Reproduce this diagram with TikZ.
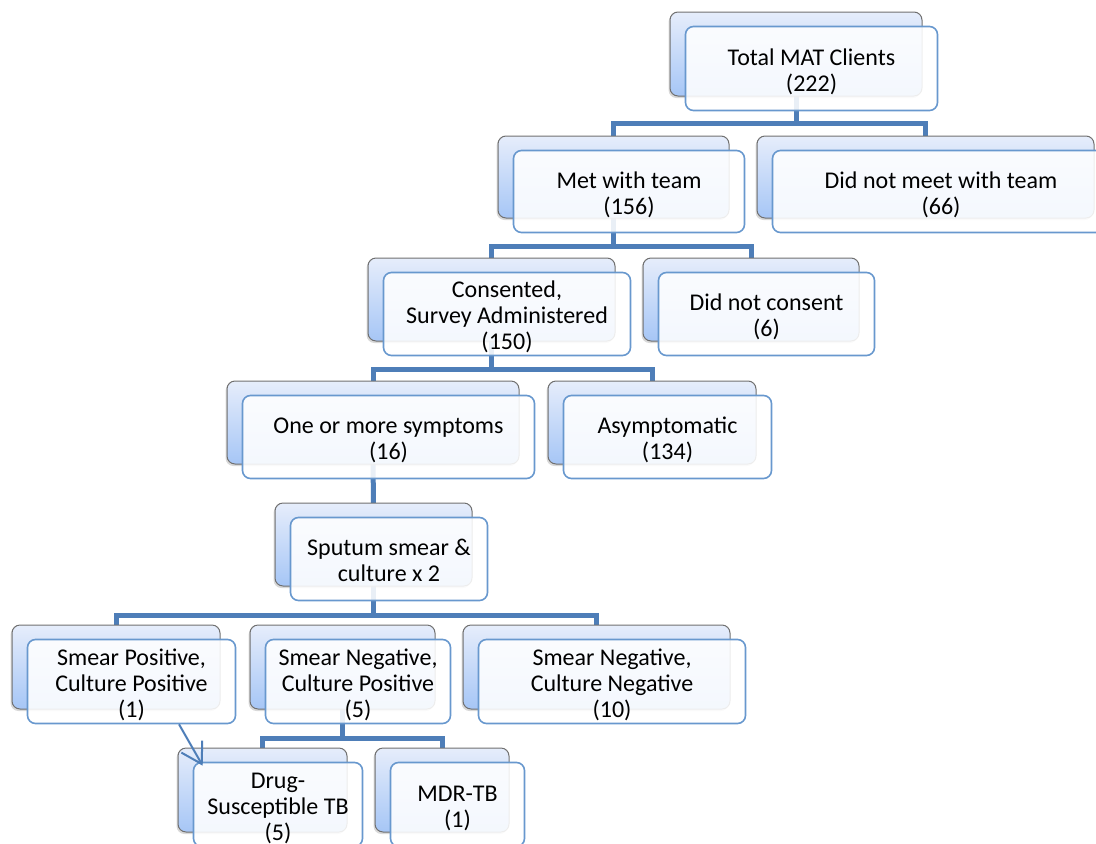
\documentclass[tikz,border=0pt]{standalone}
\usepackage{fontspec}
\setmainfont{Carlito}
\usetikzlibrary{shadows,arrows.meta,calc}
\definecolor{connc}{RGB}{78,126,184}
\definecolor{frontc}{RGB}{104,152,206}
\definecolor{backtop}{RGB}{230,237,251}
\definecolor{backbot}{RGB}{166,198,246}
\definecolor{backline}{RGB}{112,112,112}
\pgfdeclarelayer{bg}
\pgfsetlayers{bg,main}
\tikzset{
 backbox/.style={draw=backline, line width=1pt, rounded corners=8pt, top color=backtop, bottom color=backbot,
   drop shadow={shadow xshift=-1.5pt,shadow yshift=-2pt,opacity=0.3}, inner sep=0pt},
 frontbox/.style={draw=frontc, line width=1.6pt, rounded corners=8pt, fill=white, fill opacity=0.88,
   text opacity=1, inner sep=0pt, font=\fontsize{24}{26}\selectfont},
 conn/.style={draw=connc, line width=5pt, line join=miter},
 arr/.style={draw=connc, line width=2pt, -{Straight Barb[length=20pt,width=24pt]}}
}
\newcommand\smbox[6]{%
 \node[backbox, minimum width={#4-#2}, minimum height={#5-#3}] (#1b) at ({(#2+#4)/2},{(#3+#5)/2}) {};
 \node[frontbox, minimum width={#4-#2}, minimum height={#5-#3}] (#1f) at ({(#2+#4)/2+15.5},{(#3+#5)/2+14.5})
   {\raisebox{-4.5pt}[\height][\depth]{\begin{tabular}{@{}c@{}}#6\end{tabular}}};}
\begin{document}
\begin{tikzpicture}[x=1pt,y=-1pt]
\useasboundingbox (0,0) rectangle (1096,844);
\smbox{A}{670}{12}{922}{96}{Total MAT Clients\\(222)}
\smbox{B}{498}{136}{729}{218}{Met with team\\(156)}
\smbox{C}{757}{136}{1094}{218}{Did not meet with team\\(66)}
\smbox{D}{368}{258}{615}{341}{Consented,\\Survey Administered\\(150)}
\smbox{E}{643}{258}{859}{341}{Did not consent\\(6)}
\smbox{F}{227}{381}{519}{464}{One or more symptoms\\(16)}
\smbox{G}{548}{381}{756}{464}{Asymptomatic\\(134)}
\smbox{H}{275}{503}{472}{586}{Sputum smear \&\\culture x 2}
\smbox{I}{12}{625}{220}{709}{Smear Positive,\\Culture Positive\\(1)}
\smbox{J}{250}{625}{435}{709}{Smear Negative,\\Culture Positive\\(5)}
\smbox{K}{463}{625}{730}{709}{Smear Negative,\\Culture Negative\\(10)}
\smbox{L}{178}{748}{347}{832}{Drug-\\Susceptible TB\\(5)}
\smbox{M}{375}{748}{509}{832}{MDR-TB\\(1)}
\coordinate (l1) at (0,123.5);
\coordinate (l2) at (0,246);
\coordinate (l3) at (0,369);
\coordinate (l5) at (0,615);
\coordinate (l6) at (0,738);
\begin{pgfonlayer}{bg}
\draw[conn] (Ab.center) -- (Ab.center |- l1);
\draw[conn] (Bb.center) |- (Cb.center |- l1) -- (Cb.center);
\draw[conn] (Bb.center) -- (Bb.center |- l2);
\draw[conn] (Db.center) |- (Eb.center |- l2) -- (Eb.center);
\draw[conn] (Db.center) -- (Db.center |- l3);
\draw[conn] (Fb.center) |- (Gb.center |- l3) -- (Gb.center);
\draw[conn] (Fb.center) -- (Hb.center);
\draw[conn] (Hb.center) -- (Hb.center |- l5);
\draw[conn] (Ib.center) |- (Kb.center |- l5) -- (Kb.center);
\draw[conn] (Jb.center) -- (Jb.center |- l6);
\draw[conn] (Lb.center) |- (Mb.center |- l6) -- (Mb.center);
\end{pgfonlayer}
\draw[arr] (If.-42) -- ($(Lf.north west)+(10,4)$);
\end{tikzpicture}
\end{document}
